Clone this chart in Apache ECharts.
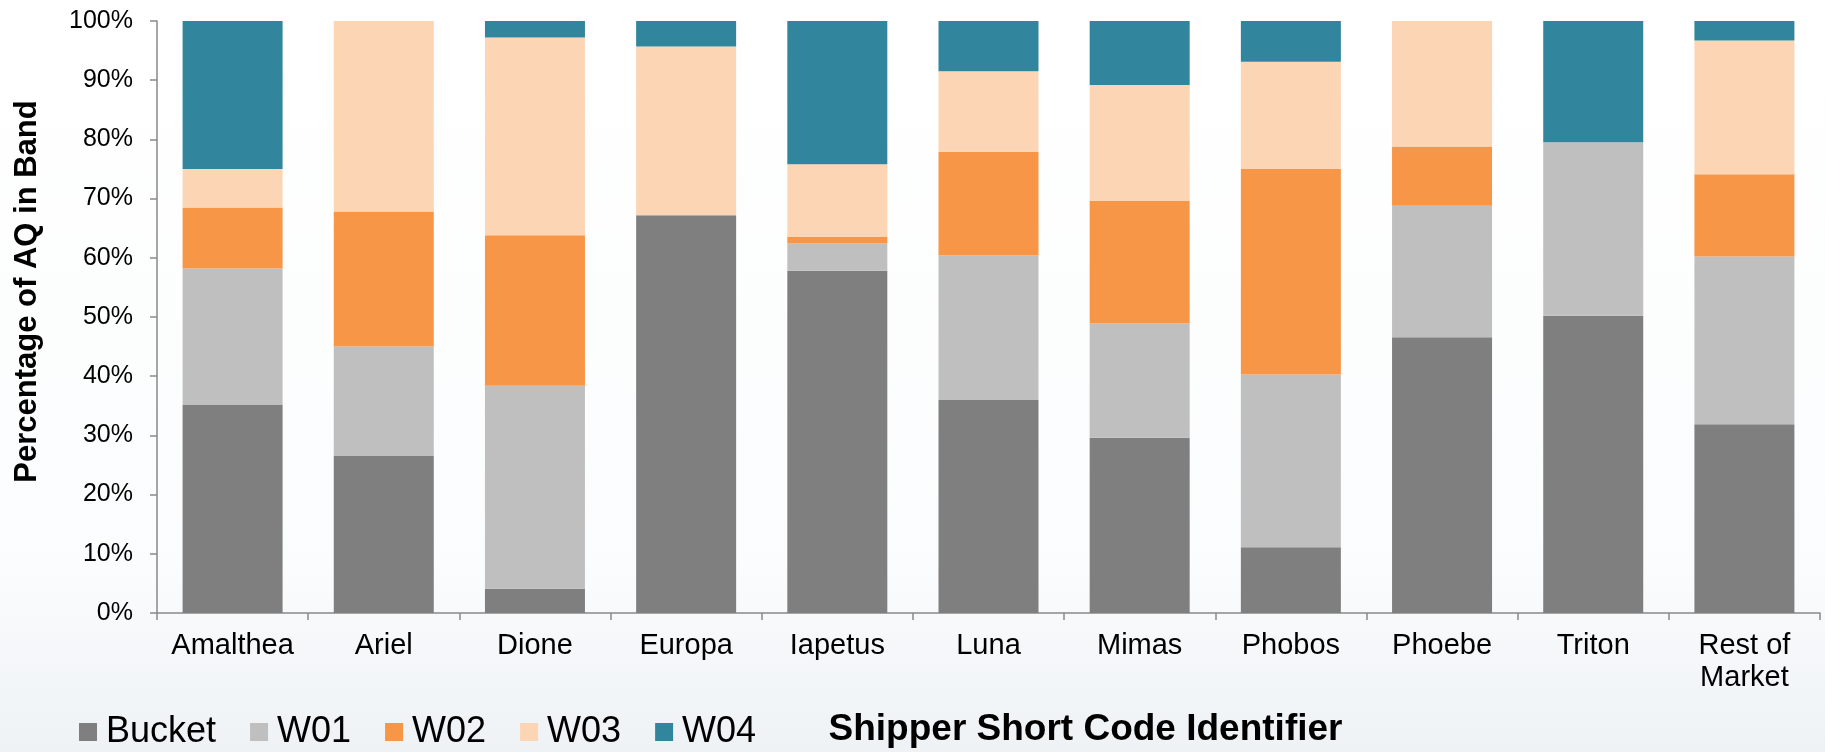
<!DOCTYPE html>
<html>
<head>
<meta charset="utf-8">
<script src="https://cdn.jsdelivr.net/npm/echarts@6/dist/echarts.min.js"></script>
<style>
html,body{margin:0;padding:0;background:#fff;}
#chart{width:1825px;height:752px;}
</style>
</head>
<body>
<div id="chart"></div>
<script>
const categories = ['Amalthea','Ariel','Dione','Europa','Iapetus','Luna','Mimas','Phobos','Phoebe','Triton','Rest of\nMarket'];
const seriesNames = ['Bucket','W01','W02','W03','W04'];
const bucket = [35.2, 26.6, 4.1, 67.2, 57.8, 36.0, 29.6, 11.1, 46.6, 50.2, 31.9];
const w01    = [23.0, 18.4, 34.3, 0,    4.6,  24.4, 19.3, 29.2, 22.2, 29.3, 28.3];
const w02    = [10.3, 22.8, 25.4, 0,    1.1,  17.5, 20.7, 34.7, 10.0, 0,    13.9];
const w03    = [6.5,  32.2, 33.4, 28.5, 12.3, 13.6, 19.6, 18.1, 21.2, 0,    22.6];
const w04    = [25.0, 0,    2.8,  4.3,  24.2, 8.5,  10.8, 6.9,  0,    20.5, 3.3];
const colors = ['#7f7f7f','#bfbfbf','#f79646','#fcd5b5','#31859c'];
const yTicks = {min: 0, max: 100, interval: 10};

const values = [bucket, w01, w02, w03, w04];
const font = '"Liberation Sans", Arial, sans-serif';

const chart = echarts.init(document.getElementById('chart'), null, {renderer: 'canvas'});
chart.setOption({
  backgroundColor: {
    type: 'linear', x: 0, y: 0, x2: 0, y2: 1,
    colorStops: [{offset: 0, color: '#ffffff'}, {offset: 0.75, color: '#fbfcfd'}, {offset: 1, color: '#eef2f5'}]
  },
  animation: false,
  color: colors,
  textStyle: {fontFamily: font},
  grid: {left: 157, right: 5, top: 21, bottom: 139, containLabel: false, outerBoundsMode: 'none'},
  legend: {
    left: 79, top: 714, padding: 0,
    icon: 'rect', itemWidth: 18, itemHeight: 18, itemGap: 34,
    textStyle: {fontSize: 36, color: '#000', fontFamily: font, padding: [0, 0, 0, 4]},
    data: seriesNames
  },
  xAxis: {
    type: 'category',
    data: categories,
    name: 'Shipper Short Code Identifier',
    nameLocation: 'middle',
    nameGap: 98,
    nameTextStyle: {fontSize: 37, fontWeight: 'bold', color: '#000', fontFamily: font, padding: [0, 0, 0, 194]},
    axisLine: {lineStyle: {color: '#898989', width: 1.5}},
    axisTick: {show: true, length: 7, lineStyle: {color: '#898989', width: 1.5}},
    axisLabel: {fontSize: 29, color: '#000', margin: 17, lineHeight: 32, fontFamily: font, interval: 0}
  },
  yAxis: {
    type: 'value',
    min: yTicks.min, max: yTicks.max, interval: yTicks.interval,
    name: 'Percentage of AQ in Band',
    nameLocation: 'middle',
    nameGap: 114,
    nameTextStyle: {fontSize: 31, fontWeight: 'bold', color: '#000', fontFamily: font, padding: [0, 0, 0, 51]},
    axisLine: {show: true, lineStyle: {color: '#898989', width: 1.5}},
    axisTick: {show: true, length: 7, lineStyle: {color: '#898989', width: 1.5}},
    splitLine: {show: false},
    axisLabel: {fontSize: 25, color: '#000', margin: 24, formatter: '{value}%', fontFamily: font}
  },
  series: seriesNames.map((n, i) => ({
    name: n,
    type: 'bar',
    stack: 'total',
    barWidth: 100,
    data: values[i],
    itemStyle: {color: colors[i]}
  }))
});
</script>
</body>
</html>
